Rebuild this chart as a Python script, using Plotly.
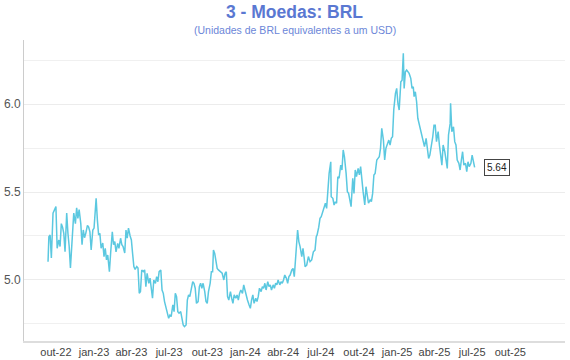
import plotly.graph_objects as go

dates = [
    "2022-09-12", "2022-09-14", "2022-09-17", "2022-09-20", "2022-09-24", "2022-09-29",
    "2022-10-01", "2022-10-04", "2022-10-08", "2022-10-11", "2022-10-14", "2022-10-17",
    "2022-10-20", "2022-10-23", "2022-10-27", "2022-10-30", "2022-11-02", "2022-11-05",
    "2022-11-09", "2022-11-13", "2022-11-17", "2022-11-20", "2022-11-23", "2022-11-26",
    "2022-11-30", "2022-12-03", "2022-12-06", "2022-12-09", "2022-12-12", "2022-12-16",
    "2022-12-19", "2022-12-22", "2022-12-25", "2022-12-29", "2023-01-01", "2023-01-04",
    "2023-01-06", "2023-01-09", "2023-01-12", "2023-01-15", "2023-01-18", "2023-01-22",
    "2023-01-25", "2023-01-28", "2023-01-31", "2023-02-03", "2023-02-07", "2023-02-10",
    "2023-02-14", "2023-02-17", "2023-02-20", "2023-02-23", "2023-02-27", "2023-03-02",
    "2023-03-06", "2023-03-09", "2023-03-12", "2023-03-16", "2023-03-19", "2023-03-22",
    "2023-03-25", "2023-03-29", "2023-04-01", "2023-04-04", "2023-04-07", "2023-04-10",
    "2023-04-14", "2023-04-17", "2023-04-20", "2023-04-23", "2023-04-26", "2023-04-30",
    "2023-05-03", "2023-05-06", "2023-05-09", "2023-05-13", "2023-05-16", "2023-05-19",
    "2023-05-22", "2023-05-25", "2023-05-29", "2023-06-01", "2023-06-04", "2023-06-07",
    "2023-06-11", "2023-06-14", "2023-06-17", "2023-06-20", "2023-06-23", "2023-06-27",
    "2023-06-30", "2023-07-03", "2023-07-06", "2023-07-10", "2023-07-13", "2023-07-16",
    "2023-07-19", "2023-07-22", "2023-07-25", "2023-07-29", "2023-08-01", "2023-08-04",
    "2023-08-07", "2023-08-11", "2023-08-14", "2023-08-17", "2023-08-20", "2023-08-23",
    "2023-08-27", "2023-08-30", "2023-09-02", "2023-09-05", "2023-09-09", "2023-09-12",
    "2023-09-15", "2023-09-18", "2023-09-21", "2023-09-25", "2023-09-28", "2023-10-01",
    "2023-10-04", "2023-10-08", "2023-10-11", "2023-10-14", "2023-10-16", "2023-10-19",
    "2023-10-22", "2023-10-25", "2023-10-28", "2023-11-03", "2023-11-06", "2023-11-10",
    "2023-11-13", "2023-11-16", "2023-11-19", "2023-11-22", "2023-11-26", "2023-11-29",
    "2023-12-02", "2023-12-05", "2023-12-09", "2023-12-12", "2023-12-15", "2023-12-18",
    "2023-12-21", "2023-12-25", "2023-12-28", "2023-12-31", "2024-01-03", "2024-01-06",
    "2024-01-10", "2024-01-13", "2024-01-16", "2024-01-19", "2024-01-22", "2024-01-26",
    "2024-01-29", "2024-02-01", "2024-02-04", "2024-02-08", "2024-02-11", "2024-02-14",
    "2024-02-17", "2024-02-20", "2024-02-24", "2024-02-27", "2024-03-01", "2024-03-04",
    "2024-03-08", "2024-03-11", "2024-03-14", "2024-03-17", "2024-03-20", "2024-03-24",
    "2024-03-27", "2024-03-30", "2024-04-02", "2024-04-05", "2024-04-09", "2024-04-12",
    "2024-04-15", "2024-04-18", "2024-04-22", "2024-04-25", "2024-04-28", "2024-05-01",
    "2024-05-04", "2024-05-06", "2024-05-09", "2024-05-12", "2024-05-16", "2024-05-19",
    "2024-05-22", "2024-05-24", "2024-05-28", "2024-06-01", "2024-06-05", "2024-06-09",
    "2024-06-13", "2024-06-17", "2024-06-20", "2024-06-22", "2024-06-26", "2024-06-29",
    "2024-07-02", "2024-07-05", "2024-07-09", "2024-07-12", "2024-07-15", "2024-07-18",
    "2024-07-21", "2024-07-25", "2024-07-26", "2024-07-30", "2024-08-02", "2024-08-05",
    "2024-08-08", "2024-08-11", "2024-08-14", "2024-08-18", "2024-08-21", "2024-08-24",
    "2024-08-27", "2024-08-31", "2024-09-03", "2024-09-06", "2024-09-09", "2024-09-12",
    "2024-09-16", "2024-09-19", "2024-09-22", "2024-09-25", "2024-09-29", "2024-10-02",
    "2024-10-05", "2024-10-08", "2024-10-11", "2024-10-15", "2024-10-18", "2024-10-21",
    "2024-10-24", "2024-10-28", "2024-10-31", "2024-11-03", "2024-11-06", "2024-11-09",
    "2024-11-13", "2024-11-16", "2024-11-19", "2024-11-22", "2024-11-25", "2024-11-29",
    "2024-12-02", "2024-12-05", "2024-12-08", "2024-12-12", "2024-12-15", "2024-12-18",
    "2024-12-21", "2024-12-24", "2024-12-28", "2024-12-31", "2025-01-03", "2025-01-06",
    "2025-01-10", "2025-01-13", "2025-01-16", "2025-01-18", "2025-01-21", "2025-01-24",
    "2025-01-27", "2025-01-30", "2025-02-03", "2025-02-06", "2025-02-09", "2025-02-11",
    "2025-02-14", "2025-02-17", "2025-02-20", "2025-02-23", "2025-02-27", "2025-03-02",
    "2025-03-05", "2025-03-08", "2025-03-12", "2025-03-15", "2025-03-18", "2025-03-21",
    "2025-03-24", "2025-03-28", "2025-03-31", "2025-04-03", "2025-04-06", "2025-04-10",
    "2025-04-13", "2025-04-16", "2025-04-19", "2025-04-22", "2025-04-26", "2025-04-29",
    "2025-05-02", "2025-05-05", "2025-05-09", "2025-05-10", "2025-05-13", "2025-05-17",
    "2025-05-20", "2025-05-23", "2025-05-26", "2025-05-30", "2025-06-02", "2025-06-05",
    "2025-06-08", "2025-06-11", "2025-06-15", "2025-06-18", "2025-06-21", "2025-06-24",
    "2025-06-28", "2025-07-01", "2025-07-04", "2025-07-07",
]

brl = [
    5.104, 5.246, 5.256, 5.125, 5.38, 5.41,
    5.417, 5.18, 5.227, 5.19, 5.32, 5.30,
    5.265, 5.16, 5.38, 5.265, 5.19, 5.068,
    5.265, 5.38, 5.32, 5.41, 5.35, 5.40,
    5.32, 5.20, 5.284, 5.24, 5.265, 5.31,
    5.30, 5.274, 5.17, 5.284, 5.295, 5.40,
    5.464, 5.34, 5.256, 5.265, 5.18, 5.21,
    5.133, 5.18, 5.114, 5.142, 5.047, 5.153,
    5.274, 5.20, 5.218, 5.16, 5.208, 5.18,
    5.237, 5.20, 5.19, 5.153, 5.284, 5.237,
    5.295, 5.25, 5.227, 5.15, 5.076, 5.06,
    5.076, 5.068, 4.924, 4.934, 5.057, 5.047,
    5.057, 4.962, 5.038, 4.981, 5.01, 4.953,
    4.896, 5.0, 4.981, 5.019, 4.99, 5.047,
    5.057, 4.943, 4.924, 4.877, 4.848, 4.82,
    4.782, 4.80, 4.792, 4.858, 4.82, 4.924,
    4.905, 4.82, 4.811, 4.82, 4.773, 4.744,
    4.735, 4.744, 4.886, 4.915, 4.905, 4.934,
    4.99, 4.981, 4.953, 4.867, 4.877, 4.962,
    4.981, 4.953, 4.981, 4.934, 4.877, 4.867,
    4.934, 4.981, 5.047, 5.047, 5.17, 5.151,
    5.104, 5.066, 5.057, 5.047, 5.038, 5.0,
    5.038, 5.047, 4.905, 4.886, 4.934, 4.896,
    4.867, 4.915, 4.896, 4.915, 4.886, 4.924,
    4.943, 4.924, 4.972, 4.943, 4.905, 4.886,
    4.858, 4.839, 4.886, 4.915, 4.867, 4.896,
    4.877, 4.905, 4.953, 4.934, 4.962, 4.953,
    4.981, 4.943, 4.99, 4.962, 4.972, 4.943,
    4.972, 4.953, 4.981, 4.972, 5.0, 4.972,
    4.99, 4.981, 5.0, 5.028, 5.01, 4.981,
    5.019, 5.028, 5.057, 5.066, 5.019, 5.123,
    5.218, 5.284, 5.218, 5.19, 5.133, 5.18,
    5.123, 5.076, 5.085, 5.133, 5.104, 5.114,
    5.16, 5.17, 5.246, 5.256, 5.30, 5.35,
    5.36, 5.388, 5.417, 5.436, 5.407, 5.53,
    5.606, 5.672, 5.473, 5.464, 5.426, 5.445,
    5.436, 5.587, 5.578, 5.653, 5.625, 5.739,
    5.70, 5.606, 5.502, 5.492, 5.455, 5.417,
    5.578, 5.492, 5.625, 5.587, 5.634, 5.597,
    5.644, 5.558, 5.502, 5.426, 5.53, 5.483,
    5.436, 5.455, 5.445, 5.492, 5.597, 5.606,
    5.682, 5.691, 5.70, 5.748, 5.862, 5.795,
    5.682, 5.748, 5.767, 5.795, 5.767, 5.805,
    5.814, 5.97, 6.06, 6.089, 6.004, 5.966,
    6.127, 6.136, 6.288, 6.089, 6.184, 6.193,
    6.184, 6.174, 6.146, 6.089, 6.098, 6.042,
    6.07, 6.013, 5.919, 5.89, 5.852, 5.824,
    5.786, 5.758, 5.805, 5.739, 5.691, 5.71,
    5.748, 5.814, 5.88, 5.88, 5.786, 5.843,
    5.767, 5.691, 5.653, 5.767, 5.729, 5.682,
    5.634, 5.824, 5.89, 6.004, 5.843, 5.871,
    5.786, 5.767, 5.682, 5.663, 5.625, 5.682,
    5.729, 5.653, 5.663, 5.616, 5.672, 5.644,
    5.663, 5.71, 5.672, 5.64,
]

tick_dates = ["2022-10-01", "2023-01-01", "2023-04-01", "2023-07-01", "2023-10-01",
              "2024-01-01", "2024-04-01", "2024-07-01", "2024-10-01", "2025-01-01",
              "2025-04-01", "2025-07-01", "2025-10-01"]
tick_labels = ["out-22", "jan-23", "abr-23", "jul-23", "out-23", "jan-24", "abr-24",
               "jul-24", "out-24", "jan-25", "abr-25", "jul-25", "out-25"]

title_text = "3 - Moedas: BRL"
subtitle_text = "(Unidades de BRL equivalentes a um USD)"
last_label = "5.64"

FONT = "Liberation Sans, Arial, sans-serif"

fig = go.Figure()
fig.add_trace(go.Scatter(
    x=dates, y=brl, mode="lines",
    line=dict(color="#5bc8e0", width=1.5),
    hoverinfo="x+y", showlegend=False,
))

fig.add_annotation(
    x=dates[-1], y=brl[-1], xref="x", yref="y",
    text=last_label, showarrow=False, xanchor="left", yanchor="middle",
    xshift=9, font=dict(family=FONT, size=10, color="#222"),
    bgcolor="white", bordercolor="#444", borderwidth=1, borderpad=2,
)
fig.add_annotation(
    x=0.5, y=1.033, xref="paper", yref="paper",
    text=subtitle_text, showarrow=False, xanchor="center", yanchor="middle",
    font=dict(family=FONT, size=10.5, color="#6b86d8"),
)

fig.update_layout(
    width=570, height=360,
    margin=dict(l=24, r=5, t=40, b=19),
    paper_bgcolor="white", plot_bgcolor="white",
    font=dict(family=FONT, size=11, color="#444"),
    title=dict(text="<b>" + title_text + "</b>", x=0.5, xref="paper",
               y=1 - 12 / 360, yanchor="middle", yref="container",
               font=dict(family=FONT, size=17.5, color="#5a78d2")),
    xaxis=dict(
        type="date", range=["2022-07-16", "2026-02-10"],
        tickvals=tick_dates, ticktext=tick_labels,
        showgrid=False, zeroline=False, automargin=False,
        showline=True, linecolor="#dddddd", linewidth=2,
        ticks="", tickfont=dict(size=11, color="#444"),
    ),
    yaxis=dict(
        range=[4.653, 6.364], dtick=0.5, tick0=5.0, tickformat=".1f",
        showgrid=True, gridcolor="#ececec", gridwidth=1, automargin=False,
        minor=dict(dtick=0.25, tick0=5.0, showgrid=True, gridcolor="#f0f0f0", gridwidth=1),
        zeroline=False, showline=True, linecolor="#cccccc", linewidth=1,
        ticks="", tickfont=dict(size=12, color="#555"),
    ),
)

fig.write_html(
    "out.html",
    config={"displayModeBar": False},
    post_script="document.body.style.margin='0';document.body.style.overflow='hidden';",
)
